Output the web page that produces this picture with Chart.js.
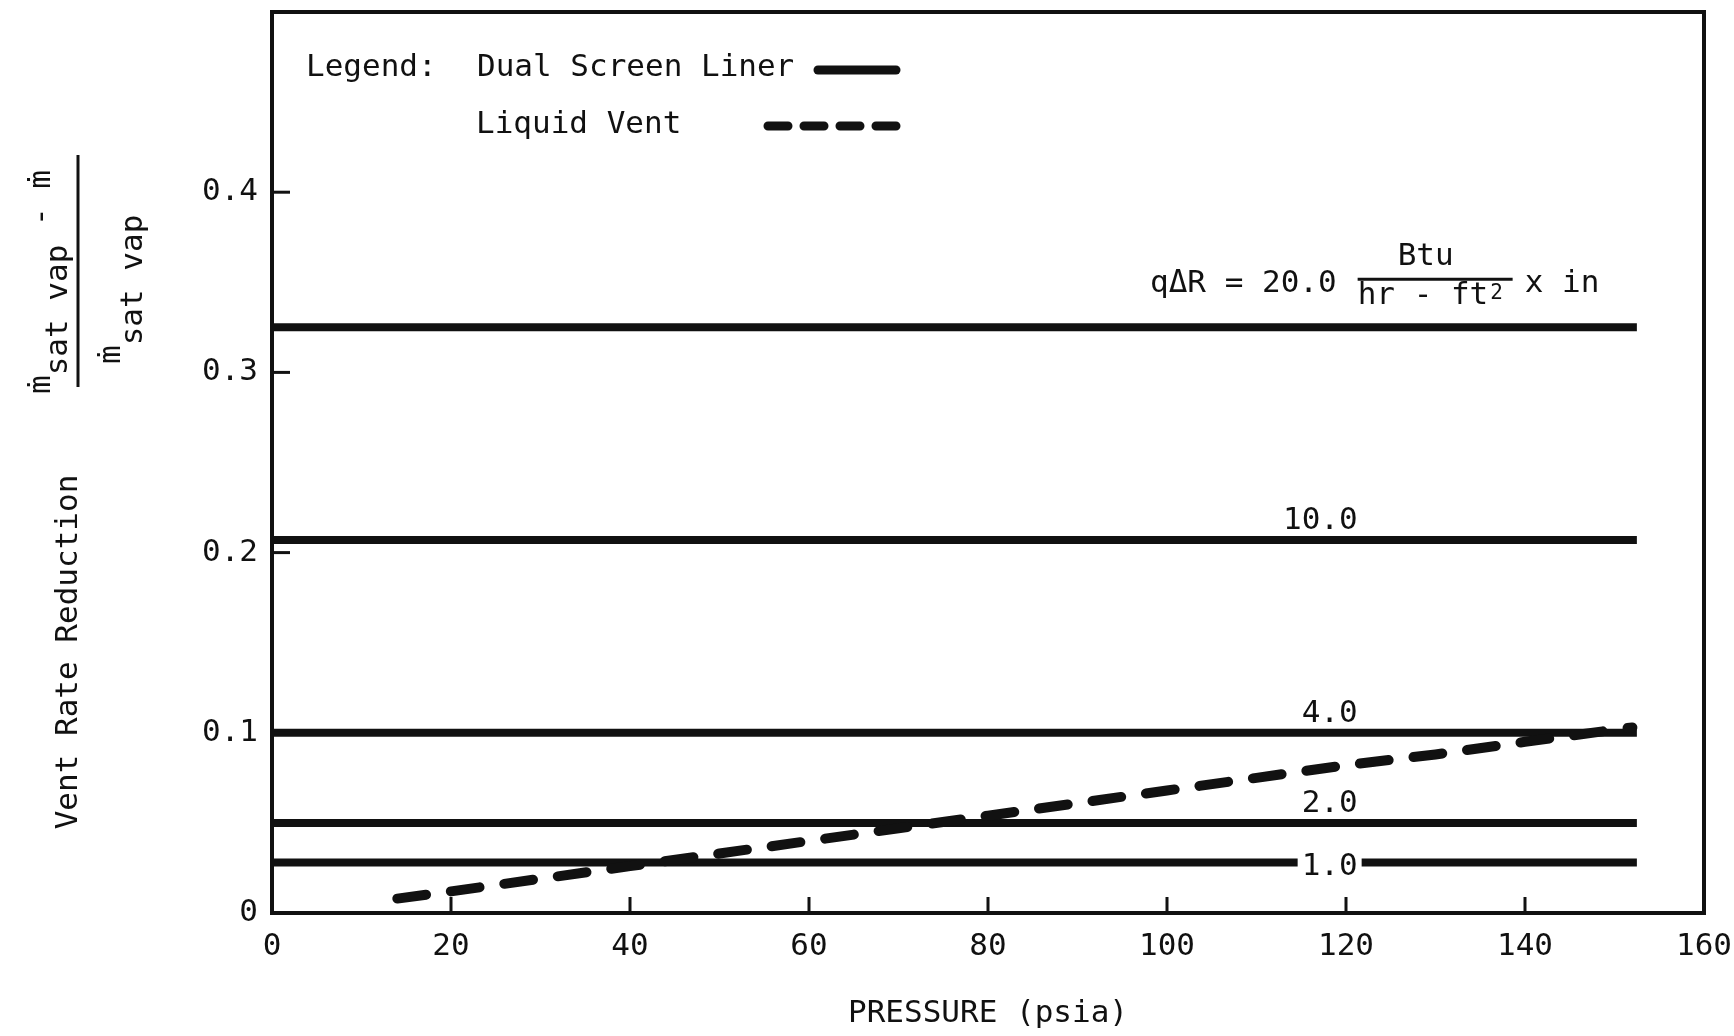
<!DOCTYPE html>
<html>
<head>
<meta charset="utf-8">
<script src="https://cdn.jsdelivr.net/npm/chart.js@4.4.1/dist/chart.umd.min.js"></script>
<style>
html,body{margin:0;padding:0;background:#fff;}
#wrap{width:1734px;height:1036px;}
</style>
</head>
<body>
<div id="wrap"><canvas id="c" width="1734" height="1036"></canvas></div>
<script>
// ---------------- data ----------------
const xTicks = [0, 20, 40, 60, 80, 100, 120, 140, 160];
const yTicks = [0, 0.1, 0.2, 0.3, 0.4];
const linerLabels = ['20.0', '10.0', '4.0', '2.0', '1.0'];
const linerReduction = [0.325, 0.207, 0.100, 0.050, 0.028];
const linerPressure = [0, 152.5];
const ventPressure = [14, 20, 30, 40, 50, 60, 70, 80, 90, 100, 110, 120, 130, 140, 152];
const ventReduction = [0.008, 0.012, 0.019, 0.026, 0.033, 0.040, 0.047, 0.054, 0.061, 0.068, 0.075, 0.082, 0.088, 0.095, 0.103];
const seriesNames = ['Dual Screen Liner', 'Liquid Vent'];
const xTitle = 'PRESSURE (psia)';
const yTitle = 'Vent Rate Reduction';

// ---------------- style ----------------
const FONT = '"DejaVu Sans Mono", "Liberation Mono", monospace';
const INK = '#111111';
const FS = 31;

const datasets = [];
datasets.push({
  label: seriesNames[1],
  data: ventPressure.map((p, i) => ({x: p, y: ventReduction[i]})),
  showLine: true,
  borderColor: INK,
  borderWidth: 10,
  borderDash: [29, 25],
  borderCapStyle: 'round',
  pointRadius: 0,
  order: 0
});
linerReduction.forEach((v, i) => {
  datasets.push({
    label: seriesNames[0] + ' ' + linerLabels[i],
    data: linerPressure.map(p => ({x: p, y: v})),
    showLine: true,
    borderColor: INK,
    borderWidth: 8,
    borderCapStyle: 'butt',
    pointRadius: 0,
    order: 1
  });
});

const inkPlugin = {
  id: 'ink',
  beforeDraw(chart) {
    const ctx = chart.ctx;
    ctx.save();
    ctx.fillStyle = '#ffffff';
    ctx.fillRect(0, 0, chart.width, chart.height);
    ctx.restore();
  },
  afterDraw(chart) {
    const ctx = chart.ctx;
    const ca = chart.chartArea;
    const xs = chart.scales.x, ys = chart.scales.y;
    ctx.save();
    ctx.strokeStyle = INK;
    ctx.fillStyle = INK;

    // inward tick marks
    ctx.lineWidth = 3;
    ctx.lineCap = 'butt';
    xTicks.forEach(v => {
      if (v <= 0 || v >= 160) return;
      const px = xs.getPixelForValue(v);
      ctx.beginPath(); ctx.moveTo(px, ca.bottom); ctx.lineTo(px, ca.bottom - 16); ctx.stroke();
    });
    yTicks.forEach(v => {
      if (v <= 0) return;
      const py = ys.getPixelForValue(v);
      ctx.beginPath(); ctx.moveTo(ca.left, py); ctx.lineTo(ca.left + 18, py); ctx.stroke();
    });

    // frame
    ctx.lineWidth = 4;
    ctx.strokeRect(ca.left, ca.top, ca.right - ca.left, ca.bottom - ca.top);

    // curve labels
    const f = FS + 'px ' + FONT;
    ctx.font = f;
    ctx.textBaseline = 'alphabetic';
    const anchorX = xs.getPixelForValue(121.3);
    linerReduction.forEach((v, i) => {
      const ly = ys.getPixelForValue(v);
      const txt = linerLabels[i];
      if (i === 0) {
        ctx.font = f;
        ctx.textAlign = 'right';
        ctx.fillText('q\u0394R = ' + txt, anchorX - 21, ly - 35);
        ctx.textAlign = 'center';
        ctx.fillText('Btu', anchorX + 68, ly - 62);
        ctx.lineWidth = 3;
        ctx.beginPath(); ctx.moveTo(anchorX, ly - 48); ctx.lineTo(anchorX + 155, ly - 48); ctx.stroke();
        ctx.textAlign = 'left';
        ctx.fillText('hr - ft', anchorX, ly - 23);
        const w = ctx.measureText('hr - ft').width;
        ctx.font = '21px ' + FONT;
        ctx.fillText('2', anchorX + w + 2, ly - 28);
        ctx.font = f;
        ctx.fillText('x in', anchorX + 167, ly - 35);
      } else if (i === linerReduction.length - 1) {
        ctx.textAlign = 'right';
        const w = ctx.measureText(txt).width;
        ctx.fillStyle = '#ffffff';
        ctx.fillRect(anchorX - w - 4, ly - 8, w + 8, 16);
        ctx.fillStyle = INK;
        ctx.fillText(txt, anchorX, ly + 12);
      } else {
        ctx.textAlign = 'right';
        ctx.fillText(txt, anchorX, ly - 11);
      }
    });

    // legend
    ctx.font = f;
    ctx.textAlign = 'left';
    const lx = ca.left + 34;
    ctx.fillText('Legend:', lx, ca.top + 64);
    ctx.fillText(seriesNames[0], lx + 171, ca.top + 64);
    ctx.fillText(seriesNames[1], lx + 170, ca.top + 121);
    ctx.lineWidth = 9;
    ctx.lineCap = 'round';
    ctx.beginPath(); ctx.moveTo(lx + 512, ca.top + 58); ctx.lineTo(lx + 590, ca.top + 58); ctx.stroke();
    ctx.setLineDash([20, 16]);
    ctx.beginPath(); ctx.moveTo(lx + 462, ca.top + 114); ctx.lineTo(lx + 592, ca.top + 114); ctx.stroke();
    ctx.setLineDash([]);

    // y axis titles (rotated)
    ctx.lineCap = 'butt';
    ctx.save();
    ctx.rotate(-Math.PI / 2);
    // local (u,v) -> screen (v, -u)
    ctx.font = f;
    ctx.textAlign = 'center';
    ctx.fillText(yTitle, -652, 77);
    ctx.textAlign = 'left';
    // numerator
    let u = -394;
    ctx.fillText('\u1E41', u, 50); u += ctx.measureText('\u1E41').width;
    ctx.fillText('sat vap', u, 67); u += ctx.measureText('sat vap').width;
    ctx.fillText(' - \u1E41', u, 50);
    // denominator
    u = -364;
    ctx.fillText('\u1E41', u, 120); u += ctx.measureText('\u1E41').width;
    ctx.fillText('sat vap', u, 142);
    ctx.restore();
    // fraction bar
    ctx.lineWidth = 3;
    ctx.beginPath(); ctx.moveTo(78, 155); ctx.lineTo(78, 387); ctx.stroke();

    ctx.restore();
  }
};

new Chart(document.getElementById('c'), {
  type: 'scatter',
  data: {datasets},
  options: {
    responsive: false,
    animation: false,
    devicePixelRatio: 1,
    layout: {padding: {top: 12, right: 30, bottom: 0, left: 0}},
    plugins: {legend: {display: false}, tooltip: {enabled: false}},
    scales: {
      x: {
        type: 'linear', min: 0, max: 160,
        afterBuildTicks: s => { s.ticks = xTicks.map(v => ({value: v})); },
        afterFit: s => { s.height = 123; s.paddingLeft = 0; s.paddingRight = 0; },
        grid: {display: false, drawTicks: false},
        border: {display: false},
        ticks: {font: {family: FONT, size: FS}, color: INK, padding: 15, maxRotation: 0, autoSkip: false,
          callback: v => String(v)},
        title: {display: true, text: xTitle, font: {family: FONT, size: FS}, color: INK, padding: {top: 0, bottom: 3}}
      },
      y: {
        type: 'linear', min: 0, max: 0.5,
        afterBuildTicks: s => { s.ticks = yTicks.map(v => ({value: v})); },
        afterFit: s => { s.width = 272; s.paddingTop = 0; s.paddingBottom = 0; },
        grid: {display: false, drawTicks: false},
        border: {display: false},
        ticks: {font: {family: FONT, size: FS}, color: INK, padding: 14,
          callback: v => (v === 0 ? '0' : Number(v).toFixed(1))}
      }
    }
  },
  plugins: [inkPlugin]
});
</script>
</body>
</html>
